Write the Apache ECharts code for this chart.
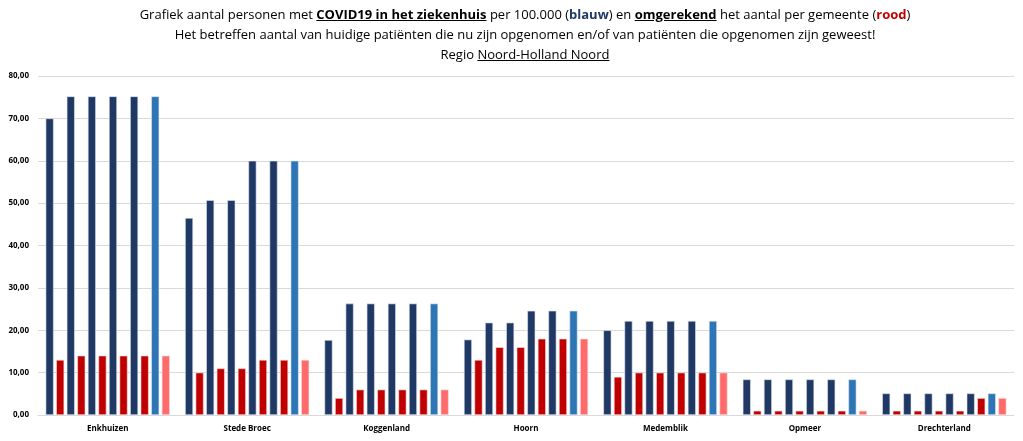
<!DOCTYPE html>
<html>
<head>
<meta charset="utf-8">
<script src="https://cdn.jsdelivr.net/npm/echarts@6/dist/echarts.min.js"></script>
<style>
  html, body { margin: 0; padding: 0; background: #fff; }
  #wrap { position: relative; width: 1023px; height: 441px; }
  #main { position: absolute; left: 0; top: 0; width: 1023px; height: 441px; }
  #titel {
    position: absolute; left: 0; top: 5px; width: 1050px; text-align: center;
    font-family: "Open Sans", sans-serif; font-size: 13px; line-height: 19.8px; color: #000;
    z-index: 2; pointer-events: none;
  }
  #titel b { font-weight: 700; }
  .u { text-decoration: underline; }
  .blauw { color: #1F3864; font-weight: 700; }
  .rood { color: #C00000; font-weight: 700; }
</style>
</head>
<body>
<div id="wrap">
  <div id="titel">
    Grafiek aantal personen met <b class="u">COVID19 in het ziekenhuis</b> per 100.000 (<span class="blauw">blauw</span>) en <b class="u">omgerekend</b> het aantal per gemeente (<span class="rood">rood</span>)<br>
    Het betreffen aantal van huidige patiënten die nu zijn opgenomen en/of van patiënten die opgenomen zijn geweest!<br>
    Regio <span class="u">Noord-Holland Noord</span>
  </div>
  <div id="main"></div>
</div>
<script>
// gemeenten
var gemeenten = ['Enkhuizen', 'Stede Broec', 'Koggenland', 'Hoorn', 'Medemblik', 'Opmeer', 'Drechterland'];

// per 100.000 inwoners (blauw), per meetmoment
var blauw1 = [70.0, 46.5, 17.7, 17.8, 20.0, 8.4, 5.1];
var blauw2 = [75.2, 50.7, 26.3, 21.8, 22.2, 8.4, 5.1];
var blauw3 = [75.2, 50.7, 26.3, 21.8, 22.2, 8.4, 5.1];
var blauw4 = [75.2, 60.0, 26.3, 24.6, 22.2, 8.4, 5.1];
var blauw5 = [75.2, 60.0, 26.3, 24.6, 22.2, 8.4, 5.1];
var blauw6 = [75.2, 60.0, 26.3, 24.6, 22.2, 8.4, 5.1];

// omgerekend aantal per gemeente (rood)
var rood1 = [13, 10, 4, 13, 9, 1, 1];
var rood2 = [14, 11, 6, 16, 10, 1, 1];
var rood3 = [14, 11, 6, 16, 10, 1, 1];
var rood4 = [14, 13, 6, 18, 10, 1, 1];
var rood5 = [14, 13, 6, 18, 10, 1, 4];
var rood6 = [14, 13, 6, 18, 10, 1, 4];

var yTicks = [0, 10, 20, 30, 40, 50, 60, 70, 80];

var blauwReeks = [blauw1, blauw2, blauw3, blauw4, blauw5, blauw6];
var roodReeks = [rood1, rood2, rood3, rood4, rood5, rood6];

var series = [];
for (var i = 0; i < 6; i++) {
    var laatste = (i === 5);
    series.push({
        name: 'blauw' + (i + 1),
        type: 'bar',
        barWidth: 8,
        barGap: '32%',
        data: blauwReeks[i],
        itemStyle: { color: laatste ? '#2E75B6' : '#203864', borderColor: '#dfe6f0', borderWidth: 0.6 }
    });
    series.push({
        name: 'rood' + (i + 1),
        type: 'bar',
        barWidth: 8,
        barGap: '32%',
        data: roodReeks[i],
        itemStyle: { color: laatste ? '#FF6B6B' : '#C00000', borderColor: '#f3dede', borderWidth: 0.6 }
    });
}

var myChart = echarts.init(document.getElementById('main'));

myChart.setOption({
    animation: false,
    grid: { left: 38, right: 9, top: 76, bottom: 26 },
    xAxis: {
        type: 'category',
        data: gemeenten,
        axisTick: { show: false },
        axisLine: { lineStyle: { color: '#d9d9d9', width: 1 } },
        axisLabel: {
            color: '#000', fontWeight: 'bold', fontSize: 8,
            fontFamily: 'Open Sans', margin: 10
        }
    },
    yAxis: {
        type: 'value',
        min: yTicks[0],
        max: yTicks[yTicks.length - 1],
        interval: 10,
        axisLine: { show: false },
        axisTick: { show: false },
        splitLine: { lineStyle: { color: '#d9d9d9', width: 1 } },
        axisLabel: {
            color: '#000', fontWeight: 'bold', fontSize: 8,
            fontFamily: 'Open Sans', margin: 9,
            formatter: function (v) { return v.toFixed(2).replace('.', ','); }
        }
    },
    series: series
});
</script>
</body>
</html>
